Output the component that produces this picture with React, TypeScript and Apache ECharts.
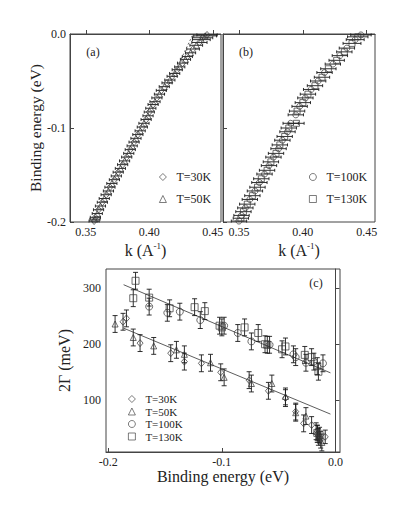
import { useEffect, useRef } from 'react'
import * as echarts from 'echarts'

const FONT = 'Liberation Serif'
const INK = '#222'

// panel (a): [k, E, dk]
const aT30 = [
  [0.4455, -0.001, 0.008], [0.442, -0.004, 0.008], [0.4395, -0.009, 0.006], [0.4345, -0.016, 0.005],
  [0.43, -0.024, 0.004], [0.4262, -0.031, 0.004], [0.422, -0.038, 0.004], [0.418, -0.045, 0.004],
  [0.414, -0.052, 0.004], [0.4095, -0.06, 0.004], [0.406, -0.068, 0.004], [0.403, -0.075, 0.004],
  [0.4, -0.083, 0.004], [0.3975, -0.091, 0.004], [0.3945, -0.099, 0.004], [0.391, -0.107, 0.004],
  [0.388, -0.115, 0.004], [0.385, -0.123, 0.004], [0.3822, -0.131, 0.004], [0.379, -0.139, 0.004],
  [0.3755, -0.147, 0.004], [0.3725, -0.155, 0.004], [0.369, -0.163, 0.004], [0.366, -0.171, 0.004],
  [0.363, -0.179, 0.004], [0.36, -0.187, 0.004], [0.3575, -0.195, 0.004], [0.3565, -0.199, 0.004],
]
const aT50 = [
  [0.444, -0.002, 0.009], [0.441, -0.006, 0.007], [0.437, -0.012, 0.005], [0.4325, -0.02, 0.004],
  [0.4285, -0.027, 0.004], [0.424, -0.035, 0.004], [0.42, -0.042, 0.004], [0.4162, -0.049, 0.004],
  [0.4118, -0.056, 0.004], [0.408, -0.064, 0.004], [0.4045, -0.072, 0.004], [0.4012, -0.079, 0.004],
  [0.399, -0.087, 0.004], [0.3958, -0.095, 0.004], [0.3928, -0.103, 0.004], [0.3895, -0.111, 0.004],
  [0.3865, -0.119, 0.004], [0.3838, -0.127, 0.004], [0.3805, -0.135, 0.004], [0.3772, -0.143, 0.004],
  [0.374, -0.151, 0.004], [0.3705, -0.159, 0.004], [0.3678, -0.167, 0.004], [0.3645, -0.175, 0.004],
  [0.3615, -0.183, 0.004], [0.359, -0.191, 0.004], [0.3572, -0.197, 0.004],
]
const aBareBand = [[0.4115, -0.065], [0.4345, 0.0]]

// panel (b): [k, E, dk]
const bT100 = [
  [0.4455, -0.001, 0.008], [0.441, -0.006, 0.007], [0.4345, -0.015, 0.006], [0.429, -0.023, 0.006],
  [0.4235, -0.032, 0.006], [0.417, -0.041, 0.006], [0.412, -0.05, 0.006], [0.4065, -0.059, 0.006],
  [0.402, -0.068, 0.006], [0.3975, -0.077, 0.006], [0.3945, -0.086, 0.006], [0.3905, -0.095, 0.006],
  [0.388, -0.104, 0.006], [0.384, -0.113, 0.006], [0.381, -0.122, 0.006], [0.377, -0.131, 0.006],
  [0.3735, -0.14, 0.006], [0.37, -0.149, 0.006], [0.366, -0.158, 0.006], [0.3625, -0.167, 0.006],
  [0.3585, -0.176, 0.006], [0.355, -0.185, 0.006], [0.352, -0.193, 0.006], [0.35, -0.199, 0.006],
]
const bT130 = [
  [0.443, -0.003, 0.008], [0.4385, -0.01, 0.007], [0.4325, -0.019, 0.006], [0.4265, -0.028, 0.006],
  [0.42, -0.037, 0.006], [0.415, -0.046, 0.006], [0.4095, -0.055, 0.006], [0.404, -0.064, 0.006],
  [0.4, -0.073, 0.006], [0.3955, -0.082, 0.006], [0.395, -0.095, 0.006], [0.389, -0.1, 0.006],
  [0.3858, -0.109, 0.006], [0.382, -0.118, 0.006], [0.379, -0.127, 0.006], [0.375, -0.136, 0.006],
  [0.372, -0.145, 0.006], [0.3675, -0.154, 0.006], [0.3645, -0.163, 0.006], [0.3605, -0.172, 0.006],
  [0.3565, -0.181, 0.006], [0.3535, -0.189, 0.006], [0.3515, -0.196, 0.006],
]

// panel (c): [E, 2Γ, d2Γ]
const cT30 = [
  [-0.187, 240, 15], [-0.184, 246, 15], [-0.172, 202, 15], [-0.145, 184, 15], [-0.133, 169, 15],
  [-0.118, 166, 15], [-0.101, 150, 15], [-0.076, 136, 15], [-0.059, 117, 15], [-0.044, 104, 15],
  [-0.035, 80, 15], [-0.028, 59, 15], [-0.021, 56, 15], [-0.016, 40, 15], [-0.013, 30, 15],
  [-0.009, 35, 12],
]
const cT50 = [
  [-0.194, 236, 15], [-0.178, 212, 15], [-0.16, 197, 15], [-0.14, 190, 15], [-0.133, 182, 15],
  [-0.11, 167, 15], [-0.098, 141, 15], [-0.074, 130, 15], [-0.056, 130, 15], [-0.044, 107, 15],
  [-0.035, 78, 15], [-0.026, 72, 15], [-0.017, 45, 15], [-0.015, 35, 15], [-0.012, 25, 15],
]
const cT100 = [
  [-0.178, 282, 15], [-0.176, 313, 15], [-0.164, 283, 15], [-0.146, 264, 15], [-0.124, 266, 15],
  [-0.115, 259, 15], [-0.102, 233, 15], [-0.1, 230, 15], [-0.08, 230, 15], [-0.068, 220, 15],
  [-0.062, 200, 15], [-0.06, 199, 15], [-0.047, 191, 15], [-0.044, 196, 15], [-0.027, 181, 15],
  [-0.021, 177, 15], [-0.016, 161, 15], [-0.015, 151, 15], [-0.016, 42, 14], [-0.014, 38, 14],
]
const cT130 = [
  [-0.164, 267, 15], [-0.148, 256, 15], [-0.137, 258, 15], [-0.119, 243, 15], [-0.098, 233, 15],
  [-0.086, 220, 15], [-0.074, 205, 15], [-0.058, 199, 15], [-0.037, 182, 15], [-0.035, 177, 15],
  [-0.026, 167, 15], [-0.019, 169, 15], [-0.011, 166, 15],
]
const cFitLow = [[-0.1865, 228.6], [-0.0044, 75.5]]
const cFitHigh = [[-0.1865, 306], [-0.0044, 149]]

const kTicks = [0.35, 0.4, 0.45]
const eTicks = [-0.2, -0.1, 0.0]
const gammaTicks = [100, 200, 300]

const errBars = (data: number[][], idx: number, horizontal: boolean, cap: number) => ({
  type: 'custom',
  xAxisIndex: idx,
  yAxisIndex: idx,
  data,
  silent: true,
  z: 2,
  encode: { x: 0, y: 1 },
  renderItem: (_p: any, api: any) => {
    const x = api.value(0)
    const y = api.value(1)
    const e = api.value(2)
    const a = horizontal ? api.coord([x - e, y]) : api.coord([x, y - e])
    const b = horizontal ? api.coord([x + e, y]) : api.coord([x, y + e])
    const style = { stroke: '#1a1a1a', lineWidth: 0.9 }
    const capLine = (p: number[]) =>
      horizontal
        ? { type: 'line', shape: { x1: p[0], y1: p[1] - cap, x2: p[0], y2: p[1] + cap }, style }
        : { type: 'line', shape: { x1: p[0] - cap, y1: p[1], x2: p[0] + cap, y2: p[1] }, style }
    return {
      type: 'group',
      children: [
        { type: 'line', shape: { x1: a[0], y1: a[1], x2: b[0], y2: b[1] }, style },
        capLine(a),
        capLine(b),
      ],
    }
  },
})

const marks = (name: string, data: number[][], idx: number, symbol: string, size: number | number[]) => ({
  type: 'scatter',
  name,
  xAxisIndex: idx,
  yAxisIndex: idx,
  data: data.map((d) => [d[0], d[1]]),
  symbol,
  symbolSize: size,
  itemStyle: { color: 'rgba(255,255,255,0)', borderColor: '#333', borderWidth: 0.9 },
  z: 3,
})

const tickLabel = { fontFamily: FONT, fontSize: 12, color: INK }
const axisLine = { show: true, lineStyle: { color: '#444', width: 1 } }

const kAxis = (idx: number) => ({
  type: 'value',
  gridIndex: idx,
  min: 0.3375,
  max: 0.4565,
  axisLine,
  splitLine: { show: false },
  axisTick: { inside: true, length: 4, customValues: kTicks, lineStyle: { color: '#444' } },
  axisLabel: { ...tickLabel, margin: 4, customValues: kTicks, formatter: (v: number) => v.toFixed(2) },
  name: 'k (A{sup|-1})',
  nameLocation: 'middle',
  nameGap: 19,
  nameTextStyle: {
    fontFamily: FONT,
    fontSize: 16,
    color: INK,
    lineHeight: 18,
    rich: { sup: { fontFamily: FONT, fontSize: 9, lineHeight: 9, verticalAlign: 'top', color: INK } },
  },
})

const eAxis = (idx: number, labels: boolean) => ({
  type: 'value',
  gridIndex: idx,
  min: -0.2,
  max: 0,
  interval: 0.1,
  axisLine,
  splitLine: { show: false },
  axisTick: { inside: true, length: 4, lineStyle: { color: '#444' } },
  axisLabel: { ...tickLabel, show: labels, margin: 4, formatter: (v: number) => v.toFixed(1) },
  name: labels ? 'Binding energy (eV)' : '',
  nameLocation: 'middle',
  nameGap: 27,
  nameTextStyle: { fontFamily: FONT, fontSize: 15.5, color: INK },
})

export default function App() {
  const ref = useRef<HTMLDivElement | null>(null)

  useEffect(() => {
    if (!ref.current) return
    const chart = echarts.init(ref.current, null, { renderer: 'svg' })
    const legendBase = {
      orient: 'vertical',
      itemWidth: 7,
      itemHeight: 7,
      selectedMode: false,
      itemStyle: { borderWidth: 0.8, borderColor: '#333', color: 'rgba(255,255,255,0)' },
      textStyle: { fontFamily: FONT, fontSize: 12, color: INK, padding: [0, 0, 0, 5] },
    }
    chart.setOption({
      animation: false,
      backgroundColor: '#fff',
      textStyle: { fontFamily: FONT },
      grid: [
        { left: 70, top: 34, width: 151, height: 188, show: true, borderColor: '#444', borderWidth: 1 },
        { left: 223, top: 34, width: 152, height: 188, show: true, borderColor: '#444', borderWidth: 1 },
        { left: 106, top: 269, width: 234, height: 183, show: true, borderColor: '#444', borderWidth: 1 },
      ],
      xAxis: [
        kAxis(0),
        kAxis(1),
        {
          type: 'value',
          gridIndex: 2,
          min: -0.202,
          max: 0.004,
          axisLine,
          splitLine: { show: false },
          axisTick: { inside: true, length: 4, customValues: eTicks, lineStyle: { color: '#444' } },
          axisLabel: { ...tickLabel, margin: 4, customValues: eTicks, formatter: (v: number) => v.toFixed(1) },
          name: 'Binding energy (eV)',
          nameLocation: 'middle',
          nameGap: 15,
          nameTextStyle: { fontFamily: FONT, fontSize: 16, color: INK },
        },
      ],
      yAxis: [
        eAxis(0, true),
        eAxis(1, false),
        {
          type: 'value',
          gridIndex: 2,
          min: 8,
          max: 334,
          axisLine,
          splitLine: { show: false },
          axisTick: { inside: true, length: 4, customValues: gammaTicks, lineStyle: { color: '#444' } },
          axisLabel: { ...tickLabel, margin: 5, customValues: gammaTicks },
          name: '2Γ (meV)',
          nameLocation: 'middle',
          nameGap: 28,
          nameTextStyle: { fontFamily: FONT, fontSize: 16, color: INK },
        },
      ],
      legend: [
        { ...legendBase, left: 154, top: 166, itemGap: 10, data: ['T=30K', 'T=50K'] },
        { ...legendBase, left: 304, top: 166, itemGap: 10, data: ['T=100K', 'T=130K'] },
        {
          ...legendBase,
          left: 123,
          top: 388,
          itemGap: 0.5,
          data: ['T=30K', 'T=50K', 'T=100K', 'T=130K'],
          textStyle: { ...legendBase.textStyle, fontSize: 11, lineHeight: 12 },
        },
      ],
      graphic: [
        { type: 'text', x: 93, y: 52, style: { text: '(a)', font: `12px ${FONT}`, fill: INK, align: 'center', verticalAlign: 'middle' } },
        { type: 'text', x: 246, y: 52, style: { text: '(b)', font: `12px ${FONT}`, fill: INK, align: 'center', verticalAlign: 'middle' } },
        { type: 'text', x: 316, y: 283, style: { text: '(c)', font: `12px ${FONT}`, fill: INK, align: 'center', verticalAlign: 'middle' } },
      ],
      series: [
        {
          type: 'line',
          xAxisIndex: 0,
          yAxisIndex: 0,
          data: aBareBand,
          symbol: 'none',
          silent: true,
          lineStyle: { color: '#444', width: 0.8, type: [2, 2] },
          z: 1,
        },
        errBars(aT30, 0, true, 1.5),
        errBars(aT50, 0, true, 1.5),
        marks('T=30K', aT30, 0, 'diamond', [6, 7]),
        marks('T=50K', aT50, 0, 'triangle', 6),
        errBars(bT100, 1, true, 1.5),
        errBars(bT130, 1, true, 1.5),
        marks('T=100K', bT100, 1, 'circle', 6),
        marks('T=130K', bT130, 1, 'rect', 6),
        {
          type: 'line',
          xAxisIndex: 2,
          yAxisIndex: 2,
          data: cFitLow,
          symbol: 'none',
          silent: true,
          lineStyle: { color: '#333', width: 0.8 },
          z: 1,
        },
        {
          type: 'line',
          xAxisIndex: 2,
          yAxisIndex: 2,
          data: cFitHigh,
          symbol: 'none',
          silent: true,
          lineStyle: { color: '#333', width: 0.8 },
          z: 1,
        },
        errBars(cT30, 2, false, 2.5),
        errBars(cT50, 2, false, 2.5),
        errBars(cT100, 2, false, 2.5),
        errBars(cT130, 2, false, 2.5),
        marks('T=30K', cT30, 2, 'diamond', [6, 7]),
        marks('T=50K', cT50, 2, 'triangle', 6),
        marks('T=100K', cT100, 2, 'rect', 7),
        marks('T=130K', cT130, 2, 'circle', 7),
      ],
    })
    return () => chart.dispose()
  }, [])

  return <div ref={ref} style={{ position: 'absolute', left: 0, top: 0, width: 415, height: 512 }} />
}
